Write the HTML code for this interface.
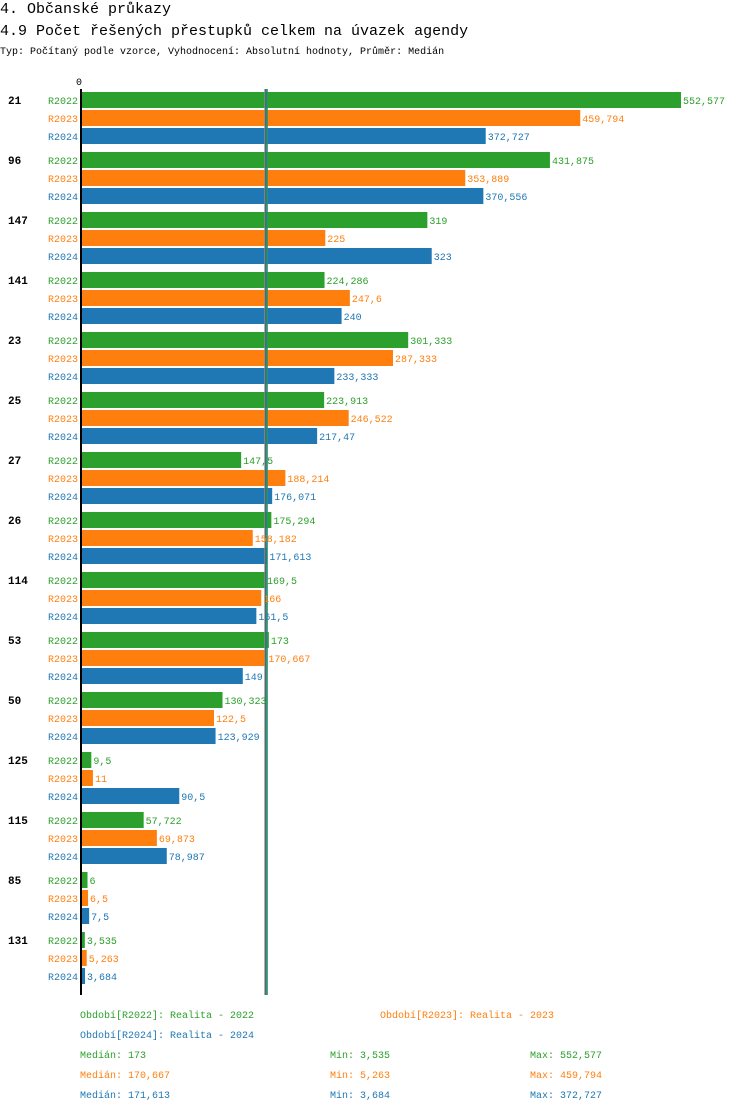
<!DOCTYPE html>
<html><head><meta charset="utf-8"><style>
body{margin:0;background:#fff;width:750px;height:1112px;overflow:hidden}
svg{display:block}
text{font-family:"Liberation Mono","DejaVu Sans Mono",monospace}
</style></head><body>
<svg id="c" width="750" height="1112">
<text x="0" y="13" font-size="15">4. Občanské průkazy</text>
<text x="0" y="35" font-size="15">4.9 Počet řešených přestupků celkem na úvazek agendy</text>
<text x="0" y="54" font-size="10">Typ: Počítaný podle vzorce, Vyhodnocení: Absolutní hodnoty, Průměr: Medián</text>
<text x="79" y="85" font-size="10" text-anchor="middle">0</text>
</svg>
<script>
const categories=["21","96","147","141","23","25","27","26","114","53","50","125","115","85","131"];
const v2022=[552.577,431.875,319,224.286,301.333,223.913,147.5,175.294,169.5,173,130.323,9.5,57.722,6,3.535];
const v2023=[459.794,353.889,225,247.6,287.333,246.522,188.214,158.182,166,170.667,122.5,11,69.873,6.5,5.263];
const v2024=[372.727,370.556,323,240,233.333,217.47,176.071,171.613,161.5,149,123.929,90.5,78.987,7.5,3.684];
const seriesNames=["R2022","R2023","R2024"];
const medians=[173,170.667,171.613];
const mins=["3,535","5,263","3,684"];
const maxs=["552,577","459,794","372,727"];
const colors=["#2ca02c","#ff7f0e","#1f77b4"];
const svg=document.getElementById('c');
const NS="http://www.w3.org/2000/svg";
const x0=81, maxV=552.577, W=600;
const xs=v=>x0+v/maxV*W;
const ys=(g,s)=>92+g*60+s*18;
function el(t,a,txt){const e=document.createElementNS(NS,t);for(const k in a)e.setAttribute(k,a[k]);if(txt!=null)e.textContent=txt;svg.appendChild(e);return e;}
const fmt=v=>String(+v.toFixed(3)).replace('.',',');
const series=[v2022,v2023,v2024];
categories.forEach((c,g)=>{
  const t=el('text',{x:8,y:ys(g,0)+12,'font-size':11,'font-weight':'bold'},c);
  
  
  series.forEach((arr,s)=>{
    const y=ys(g,s);
    const l=el('text',{x:78,y:y+12,'font-size':10,'text-anchor':'end',fill:colors[s]},seriesNames[s]);
    
    
    const r=el('rect',{x:x0,y:y,width:xs(arr[g])-x0,height:16,fill:colors[s]});
    
    
  });
});
const ax=el('line',{x1:x0,y1:89,x2:x0,y2:995,stroke:'#000','stroke-width':2});


medians.forEach((m,s)=>{
  const ml=el('line',{x1:xs(m)-1.5,y1:89,x2:xs(m)-1.5,y2:995,stroke:colors[s],'stroke-width':s==2?2:1});
  
  
});
categories.forEach((c,g)=>{
  series.forEach((arr,s)=>{
    const y=ys(g,s);
    const vt=el('text',{x:xs(arr[g])+2,y:y+12,'font-size':10,fill:colors[s]},fmt(arr[g]));
    
    
  });
});
const leg=[[80,1018,0,"Období[R2022]: Realita - 2022"],[380,1018,1,"Období[R2023]: Realita - 2023"],[80,1038,2,"Období[R2024]: Realita - 2024"]];
leg.forEach(([x,y,s,t])=>{
  const e=el('text',{x:x,y:y,'font-size':10,fill:colors[s]},t);
  
  
});
medians.forEach((m,s)=>{
  const y=1058+s*20;
  const a=el('text',{x:80,y:y,'font-size':10,fill:colors[s]},'Medián: '+fmt(m));
  
  
  const b=el('text',{x:330,y:y,'font-size':10,fill:colors[s]},'Min: '+mins[s]);
  
  
  const d=el('text',{x:530,y:y,'font-size':10,fill:colors[s]},'Max: '+maxs[s]);
  
  
});
</script>
</body></html>
